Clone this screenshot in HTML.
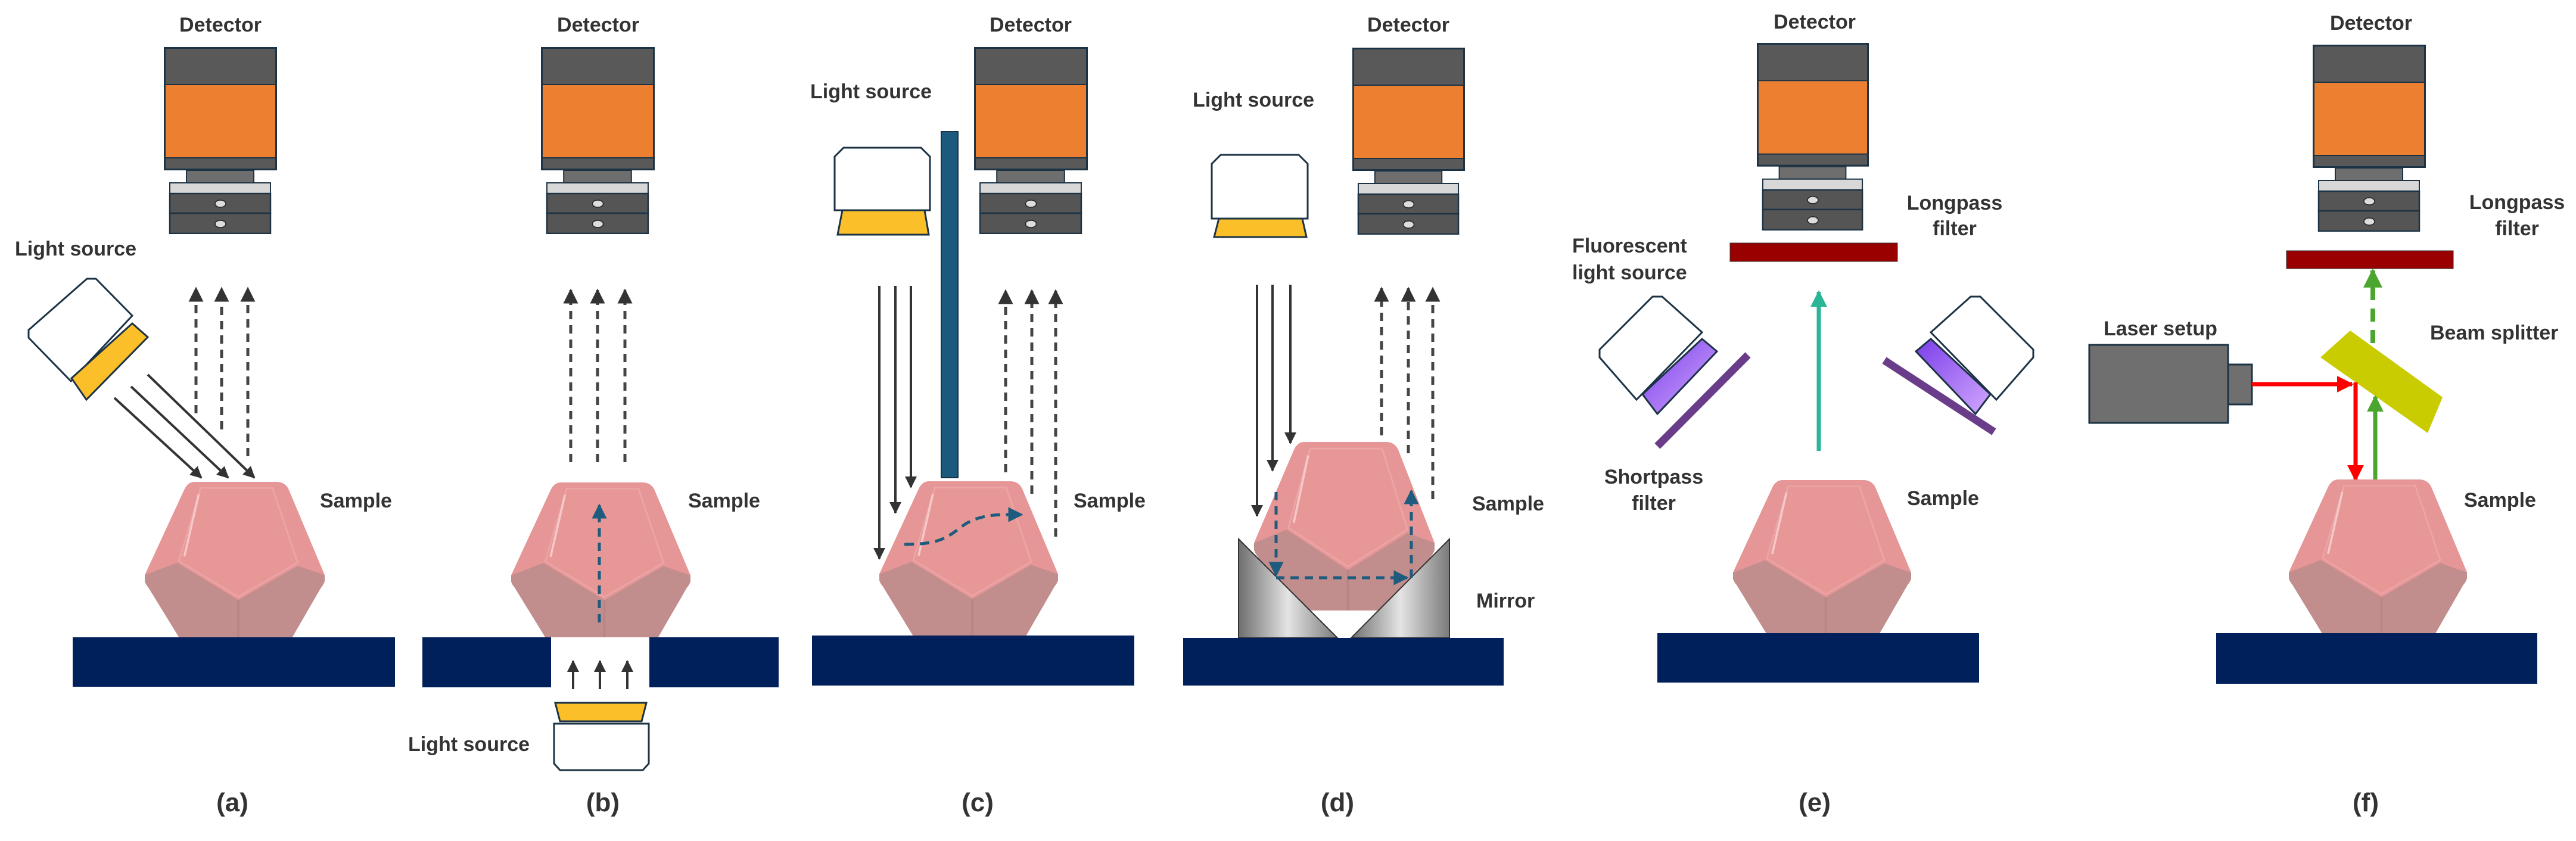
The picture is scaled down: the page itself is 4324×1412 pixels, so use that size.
<!DOCTYPE html>
<html><head><meta charset="utf-8"><style>
html,body{margin:0;padding:0;background:#fff;}
svg{display:block;}
text{font-family:"Liberation Sans",Arial,sans-serif;font-weight:bold;fill:#333;}
</style></head><body>
<svg width="4324" height="1412" viewBox="0 0 4324 1412" xmlns="http://www.w3.org/2000/svg">
<defs>
<marker id="ad" viewBox="0 0 10 10" refX="9" refY="5" markerWidth="5" markerHeight="5" orient="auto" markerUnits="strokeWidth"><path d="M0,0 L10,5 L0,10 z" fill="#333"/></marker>
<marker id="ab" viewBox="0 0 10 10" refX="9" refY="5" markerWidth="5" markerHeight="5" orient="auto" markerUnits="strokeWidth"><path d="M0,0 L10,5 L0,10 z" fill="#1e5b7d"/></marker>
<marker id="ar" viewBox="0 0 10 10" refX="9" refY="5" markerWidth="4" markerHeight="4" orient="auto" markerUnits="strokeWidth"><path d="M0,0 L10,5 L0,10 z" fill="#ff0000"/></marker>
<marker id="ag" viewBox="0 0 10 10" refX="9" refY="5" markerWidth="4" markerHeight="4" orient="auto" markerUnits="strokeWidth"><path d="M0,0 L10,5 L0,10 z" fill="#4aa62e"/></marker>
<marker id="at" viewBox="0 0 10 10" refX="9" refY="5" markerWidth="4" markerHeight="4" orient="auto" markerUnits="strokeWidth"><path d="M0,0 L10,5 L0,10 z" fill="#2bb597"/></marker>
<linearGradient id="mg" x1="0" y1="0" x2="1" y2="0"><stop offset="0" stop-color="#6e6e6e"/><stop offset="0.5" stop-color="#e4e4e4"/><stop offset="1" stop-color="#7a7a7a"/></linearGradient>
<linearGradient id="pg" x1="0" y1="0" x2="1" y2="1"><stop offset="0" stop-color="#7a3ee8"/><stop offset="1" stop-color="#d2a8ff"/></linearGradient>
<symbol id="det" viewBox="0 0 190 314" preserveAspectRatio="none">
<rect x="1.5" y="1.5" width="187" height="204" fill="#595959" stroke="#1c3345" stroke-width="3"/>
<rect x="3" y="63" width="184" height="123" fill="#ed7f30"/>
<line x1="3" y1="63" x2="187" y2="63" stroke="#1c3345" stroke-width="2"/>
<line x1="3" y1="186" x2="187" y2="186" stroke="#1c3345" stroke-width="2"/>
<rect x="38" y="207" width="113" height="21" fill="#6e6e6e" stroke="#1c3345" stroke-width="2"/>
<rect x="10" y="228" width="169" height="18" fill="#d8d8d8" stroke="#1c3345" stroke-width="2"/>
<rect x="10" y="246" width="169" height="33" fill="#555" stroke="#1c3345" stroke-width="2.5"/>
<rect x="10" y="279" width="169" height="34" fill="#555" stroke="#1c3345" stroke-width="2.5"/>
<ellipse cx="95" cy="263" rx="9" ry="6" fill="#ddd" stroke="#222" stroke-width="1.5"/>
<ellipse cx="95" cy="297" rx="9" ry="6" fill="#ddd" stroke="#222" stroke-width="1.5"/>
</symbol>
<symbol id="smp" viewBox="0 0 100 100" preserveAspectRatio="none">
<path d="M28,0 L73,0 Q78,0 80,5 L100,60 Q101,64 98,68 L82,100 L19,100 L2,68 Q-1,64 0,60 L22,5 Q24,0 28,0 Z" fill="#c28d8d"/>
<path d="M28,0 L73,0 Q78,0 80,5 L100,60 L85,54 L52,76 L18,52 L0,60 L22,5 Q24,0 28,0 Z" fill="#e69696"/>
<path d="M31,4 L71,4 L85,52 L52,74 L19,51 Z" fill="#e89797" stroke="#eca4a4" stroke-width="1"/>
<path d="M22,48 L30,8" stroke="#f6c8c8" stroke-width="1.2"/>
<path d="M52,76 L52,100" stroke="#b88484" stroke-width="1.2"/>
</symbol>
</defs>

<!-- ===== (a) ===== -->
<text x="370" y="53" font-size="34" text-anchor="middle">Detector</text>
<use href="#det" x="275" y="79" width="190" height="314"/>
<text x="25" y="429" font-size="34">Light source</text>
<polygon points="48,567 48,554 146,468 161,468 222,530 119,640" fill="#fff" stroke="#1c3345" stroke-width="3"/>
<polygon points="120,635 222,543 248,566 145,671" fill="#fbbf2a" stroke="#1c3345" stroke-width="3"/>
<g stroke="#333" stroke-width="4" marker-end="url(#ad)">
<line x1="192" y1="668" x2="338" y2="802"/>
<line x1="220" y1="649" x2="383" y2="802"/>
<line x1="248" y1="629" x2="427" y2="802"/>
</g>
<g stroke="#444" stroke-width="5" stroke-dasharray="14 10" marker-end="url(#ad)">
<line x1="329" y1="694" x2="329" y2="484"/>
<line x1="372" y1="721" x2="372" y2="484"/>
<line x1="416" y1="766" x2="416" y2="484"/>
</g>
<use href="#smp" x="243" y="809" width="302" height="261"/>
<text x="537" y="852" font-size="34">Sample</text>
<rect x="122" y="1070" width="541" height="83" fill="#00205b"/>
<text x="390" y="1362" font-size="44" text-anchor="middle">(a)</text>

<!-- ===== (b) ===== -->
<text x="1004" y="53" font-size="34" text-anchor="middle">Detector</text>
<use href="#det" x="908" y="79" width="191" height="314"/>
<g stroke="#444" stroke-width="5" stroke-dasharray="14 10" marker-end="url(#ad)">
<line x1="958" y1="776" x2="958" y2="487"/>
<line x1="1003" y1="776" x2="1003" y2="487"/>
<line x1="1049" y1="776" x2="1049" y2="487"/>
</g>
<use href="#smp" x="858" y="810" width="301" height="260"/>
<line x1="1006" y1="1045" x2="1006" y2="848" stroke="#1e5b7d" stroke-width="5" stroke-dasharray="14 10" marker-end="url(#ab)"/>
<text x="1155" y="852" font-size="34">Sample</text>
<rect x="709" y="1070" width="216" height="84" fill="#00205b"/>
<rect x="1090" y="1070" width="217" height="84" fill="#00205b"/>
<g stroke="#333" stroke-width="4" marker-end="url(#ad)">
<line x1="962" y1="1157" x2="962" y2="1110"/>
<line x1="1007" y1="1157" x2="1007" y2="1110"/>
<line x1="1053" y1="1157" x2="1053" y2="1110"/>
</g>
<polygon points="932,1180 1085,1180 1077,1211 940,1211" fill="#fbbf2a" stroke="#1c3345" stroke-width="3"/>
<polygon points="930,1215 1089,1215 1089,1282 1079,1293 940,1293 930,1282" fill="#fff" stroke="#1c3345" stroke-width="3"/>
<text x="685" y="1261" font-size="34">Light source</text>
<text x="1012" y="1362" font-size="44" text-anchor="middle">(b)</text>

<!-- ===== (c) ===== -->
<text x="1730" y="53" font-size="34" text-anchor="middle">Detector</text>
<use href="#det" x="1635" y="79" width="191" height="314"/>
<text x="1360" y="165" font-size="34">Light source</text>
<polygon points="1401,263 1416,248 1546,248 1561,263 1561,353 1401,353" fill="#fff" stroke="#1c3345" stroke-width="3"/>
<polygon points="1414,353 1552,353 1559,394 1406,394" fill="#fbbf2a" stroke="#1c3345" stroke-width="3"/>
<rect x="1580" y="221" width="28" height="581" fill="#1b5a7e" stroke="#1c3345" stroke-width="2"/>
<g stroke="#333" stroke-width="4" marker-end="url(#ad)">
<line x1="1476" y1="480" x2="1476" y2="938"/>
<line x1="1503" y1="480" x2="1503" y2="861"/>
<line x1="1529" y1="480" x2="1529" y2="818"/>
</g>
<g stroke="#444" stroke-width="5" stroke-dasharray="14 10" marker-end="url(#ad)">
<line x1="1688" y1="793" x2="1688" y2="488"/>
<line x1="1732" y1="829" x2="1732" y2="488"/>
<line x1="1772" y1="901" x2="1772" y2="488"/>
</g>
<use href="#smp" x="1476" y="808" width="300" height="260"/>
<path d="M1518,914 C1580,914 1590,902 1620,880 C1650,862 1680,864 1715,864" fill="none" stroke="#1e5b7d" stroke-width="5" stroke-dasharray="16 10" marker-end="url(#ab)"/>
<text x="1802" y="852" font-size="34">Sample</text>
<rect x="1363" y="1067" width="541" height="84" fill="#00205b"/>
<text x="1641" y="1362" font-size="44" text-anchor="middle">(c)</text>

<!-- ===== (d) ===== -->
<text x="2364" y="53" font-size="34" text-anchor="middle">Detector</text>
<use href="#det" x="2270" y="80" width="189" height="314"/>
<text x="2002" y="179" font-size="34">Light source</text>
<polygon points="2034,275 2049,260 2180,260 2195,275 2195,367 2034,367" fill="#fff" stroke="#1c3345" stroke-width="3"/>
<polygon points="2046,367 2186,367 2193,398 2038,398" fill="#fbbf2a" stroke="#1c3345" stroke-width="3"/>
<g stroke="#333" stroke-width="4" marker-end="url(#ad)">
<line x1="2110" y1="478" x2="2110" y2="866"/>
<line x1="2136" y1="478" x2="2136" y2="790"/>
<line x1="2166" y1="478" x2="2166" y2="744"/>
</g>
<g stroke="#444" stroke-width="5" stroke-dasharray="14 10" marker-end="url(#ad)">
<line x1="2319" y1="731" x2="2319" y2="484"/>
<line x1="2364" y1="761" x2="2364" y2="484"/>
<line x1="2405" y1="838" x2="2405" y2="484"/>
</g>
<use href="#smp" x="2105" y="742" width="303" height="283"/>
<polygon points="2079,905 2245,1071 2079,1071" fill="url(#mg)" stroke="#333" stroke-width="2"/>
<polygon points="2433,905 2268,1071 2433,1071" fill="url(#mg)" stroke="#333" stroke-width="2"/>
<path d="M2142,826 L2142,966" fill="none" stroke="#1e5b7d" stroke-width="5" stroke-dasharray="14 10" marker-end="url(#ab)"/>
<path d="M2142,970 L2362,970" fill="none" stroke="#1e5b7d" stroke-width="5" stroke-dasharray="14 10" marker-end="url(#ab)"/>
<path d="M2369,970 L2369,824" fill="none" stroke="#1e5b7d" stroke-width="5" stroke-dasharray="14 10" marker-end="url(#ab)"/>
<text x="2471" y="857" font-size="34">Sample</text>
<text x="2478" y="1020" font-size="34">Mirror</text>
<rect x="1986" y="1071" width="538" height="80" fill="#00205b"/>
<text x="2245" y="1362" font-size="44" text-anchor="middle">(d)</text>

<!-- ===== (e) ===== -->
<text x="3046" y="48" font-size="34" text-anchor="middle">Detector</text>
<use href="#det" x="2949" y="72" width="188" height="315"/>
<rect x="2904" y="408" width="281" height="31" fill="#990000" stroke="#333" stroke-width="1"/>
<text x="3281" y="352" font-size="34" text-anchor="middle">Longpass</text>
<text x="3281" y="395" font-size="34" text-anchor="middle">filter</text>
<text x="2639" y="424" font-size="34">Fluorescent</text>
<text x="2639" y="469" font-size="34">light source</text>
<line x1="3053" y1="757" x2="3053" y2="490" stroke="#2bb597" stroke-width="7" marker-end="url(#at)"/>
<polygon points="2685,600 2685,587 2774,498 2790,498 2857,558 2747,671" fill="#fff" stroke="#1c3345" stroke-width="3"/>
<polygon points="2757,662 2857,569 2882,590 2782,695" fill="url(#pg)" stroke="#1c3345" stroke-width="3"/>
<line x1="2782" y1="749" x2="2934" y2="596" stroke="#6a3d8a" stroke-width="13"/>
<polygon points="3413,600 3413,587 3324,498 3308,498 3241,558 3351,671" fill="#fff" stroke="#1c3345" stroke-width="3"/>
<polygon points="3341,662 3241,569 3216,590 3316,695" fill="url(#pg)" stroke="#1c3345" stroke-width="3"/>
<line x1="3163" y1="605" x2="3347" y2="725" stroke="#6a3d8a" stroke-width="13"/>
<text x="2776" y="812" font-size="34" text-anchor="middle">Shortpass</text>
<text x="2776" y="856" font-size="34" text-anchor="middle">filter</text>
<use href="#smp" x="2909" y="806" width="299" height="259"/>
<text x="3201" y="848" font-size="34">Sample</text>
<rect x="2782" y="1063" width="540" height="83" fill="#00205b"/>
<text x="3046" y="1362" font-size="44" text-anchor="middle">(e)</text>

<!-- ===== (f) ===== -->
<text x="3980" y="50" font-size="34" text-anchor="middle">Detector</text>
<use href="#det" x="3882" y="75" width="190" height="314"/>
<rect x="3838" y="421" width="280" height="30" fill="#990000" stroke="#333" stroke-width="1"/>
<text x="4225" y="351" font-size="34" text-anchor="middle">Longpass</text>
<text x="4225" y="395" font-size="34" text-anchor="middle">filter</text>
<line x1="3983" y1="612" x2="3983" y2="454" stroke="#4aa62e" stroke-width="8" stroke-dasharray="22 14" marker-end="url(#ag)"/>
<polygon points="3895,600 3945,555 4100,667 4075,727" fill="#c8cc00"/>
<text x="4079" y="570" font-size="34">Beam splitter</text>
<text x="3531" y="563" font-size="34">Laser setup</text>
<rect x="3507" y="579" width="233" height="131" fill="#6f6f6f" stroke="#1c3345" stroke-width="3"/>
<rect x="3740" y="612" width="40" height="67" fill="#6f6f6f" stroke="#1c3345" stroke-width="3"/>
<line x1="3780" y1="645" x2="3948" y2="645" stroke="#ff0000" stroke-width="7" marker-end="url(#ar)"/>
<line x1="3954" y1="642" x2="3954" y2="806" stroke="#ff0000" stroke-width="7" marker-end="url(#ar)"/>
<line x1="3987" y1="805" x2="3987" y2="666" stroke="#4aa62e" stroke-width="7" marker-end="url(#ag)"/>
<use href="#smp" x="3842" y="805" width="299" height="260"/>
<text x="4136" y="851" font-size="34">Sample</text>
<rect x="3720" y="1063" width="539" height="85" fill="#00205b"/>
<text x="3971" y="1362" font-size="44" text-anchor="middle">(f)</text>
</svg>
</body></html>
